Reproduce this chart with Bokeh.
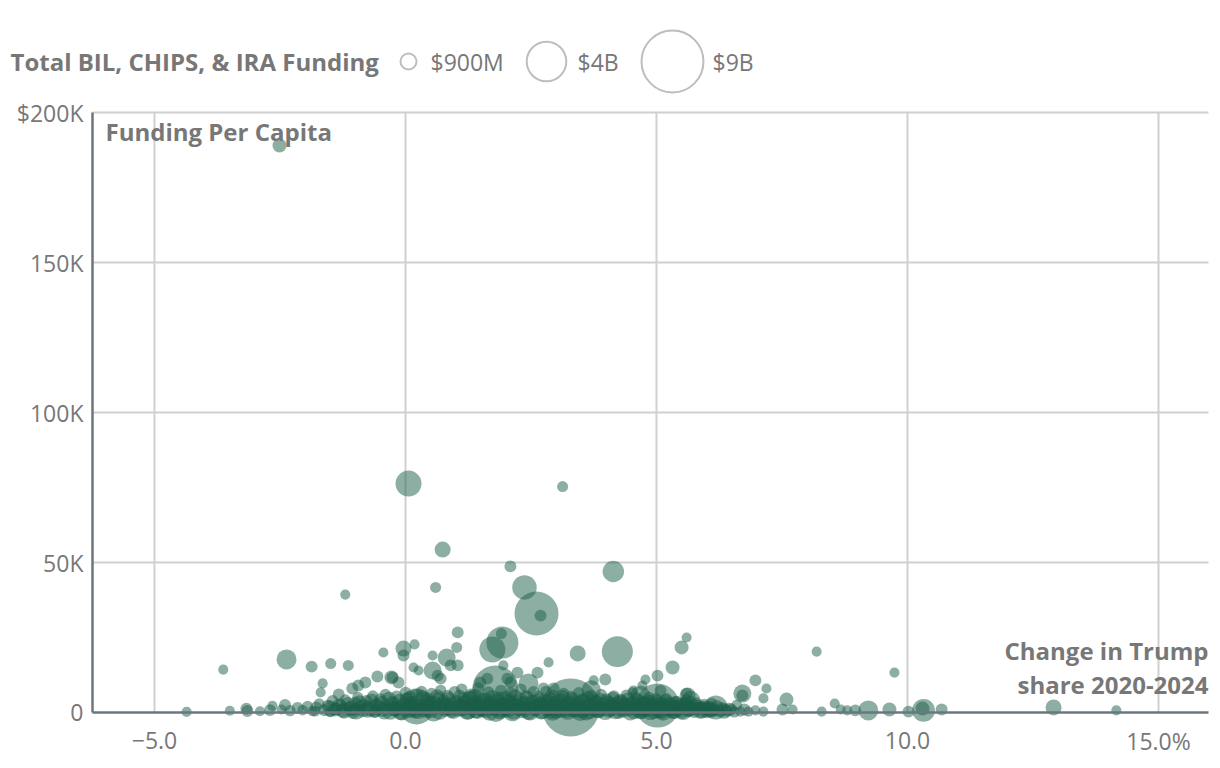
from bokeh.plotting import figure
from bokeh.models import Range1d, ColumnDataSource
from bokeh.core.properties import value
from bokeh.embed import file_html
from bokeh.resources import INLINE

FONT = "Open Sans"
GRAY = "#777777"
AXIS = "#6e767d"
GRID = "#d0d0d0"
BUBBLE = "#1a5e48"

# ---------------- data ----------------
x_axis_range = (-6.235, 15.996)      # change in Trump share, percentage points
y_axis_range = (0, 200000)           # funding per capita, dollars
x_ticks = [-5, 0, 5, 10, 15]
x_tick_labels = ["\u22125.0", "0.0", "5.0", "10.0", "15.0%"]
y_ticks = [0, 50000, 100000, 150000, 200000]
y_tick_labels = ["0", "50K", "100K", "150K", "$200K"]

legend_title = "Total BIL, CHIPS, & IRA Funding"
legend_values_bn = [0.9, 4.0, 9.0]
legend_labels = ["$900M", "$4B", "$9B"]

# counties standing out from the dense band (change in Trump share, pp)
sparse_shift = [
    -2.51, 0.06, 3.13, 0.74, 0.60, 2.09, 2.37, 2.61, 2.69, 4.14,
    4.22, -1.20, 1.93, 1.73, 1.91, -2.37, 1.04, 1.02, -0.04, -0.04,
    0.18, -0.44, -3.63, -1.87, -1.49, -1.14, -1.65, -1.69, -1.33, -1.06,
    -0.94, -0.80, -0.56, -0.28, 0.54, 0.82, 0.90, 1.04, 0.16, 0.26,
    0.54, 0.64, 0.70, -0.26, -0.14, 2.85, 3.43, 1.95, 2.23, 2.63,
    3.75, 3.98, 1.79, 3.29, 1.49, 1.63, 2.03, 2.09, 2.45, 2.75,
    2.95, 5.60, 5.50, 5.32, 5.02, 4.78, 4.72, 4.52, 5.08, 5.02,
    5.60, 6.18, 6.71, 6.71, 6.97, 7.19, 7.13, 7.59, 7.51, 7.71,
    6.67, 6.83, 6.97, 7.13, 8.19, 8.29, 8.55, 8.67, 8.80, 9.74,
    8.96, 9.22, 9.64, 10.02, 10.32, 10.30, 10.68, 12.91, 14.16, 0.22,
    5.62, 4.54, 1.30, 4.68, 5.68, -1.50, 3.70, -4.36, -3.50, -3.17,
    -3.15, -2.90, -2.70, -2.65, -2.47, -2.40, -2.30, -2.15, -2.05, -1.95,
    -1.85,
]
# funding per capita, thousands of dollars
sparse_per_capita_k = [
    189.0, 76.3, 75.3, 54.3, 41.7, 48.7, 41.7, 33.0, 32.3, 47.0,
    20.3, 39.3, 23.3, 21.0, 26.3, 17.7, 26.7, 21.7, 21.3, 19.0,
    22.7, 20.0, 14.3, 15.3, 16.3, 15.7, 9.7, 6.7, 6.0, 8.0,
    9.0, 10.0, 12.0, 11.7, 19.0, 18.3, 15.7, 15.7, 15.0, 14.0,
    14.0, 12.3, 11.3, 11.7, 10.0, 16.7, 19.7, 15.7, 13.3, 13.3,
    10.7, 11.0, 8.0, 1.7, 10.0, 11.3, 11.3, 10.0, 9.7, 8.0,
    8.0, 25.0, 21.7, 15.0, 12.3, 11.0, 9.0, 6.7, 7.3, 2.3,
    6.3, 1.7, 6.3, 5.7, 10.7, 8.0, 4.7, 4.3, 1.0, 1.0,
    0.3, 0.3, 0.7, 0.3, 20.3, 0.3, 3.0, 1.0, 0.7, 13.3,
    0.7, 0.7, 1.0, 0.3, 0.7, 1.3, 1.0, 1.7, 0.7, 2.0,
    5.7, 7.3, 4.0, 5.7, 4.0, 1.3, 7.5, 0.2, 0.6, 1.3,
    0.5, 0.4, 0.8, 2.2, 1.0, 2.5, 0.6, 1.5, 0.8, 2.0,
    0.5,
]
# total funding, billions of dollars
sparse_total_bn = [
    0.74, 1.95, 0.53, 0.90, 0.53, 0.59, 1.76, 4.83, 0.59, 1.42,
    2.62, 0.47, 2.77, 1.95, 0.53, 1.27, 0.59, 0.53, 0.90, 0.59,
    0.47, 0.47, 0.47, 0.59, 0.53, 0.53, 0.47, 0.47, 0.59, 0.59,
    0.59, 0.59, 0.59, 0.74, 0.47, 1.08, 0.59, 0.59, 0.47, 0.47,
    1.08, 0.59, 0.59, 0.59, 0.59, 0.47, 0.90, 0.47, 0.59, 0.59,
    0.47, 0.59, 5.23, 7.97, 0.59, 0.59, 0.59, 0.59, 1.27, 0.59,
    0.59, 0.47, 0.74, 0.74, 0.59, 0.47, 0.47, 0.47, 0.59, 4.83,
    0.59, 1.71, 1.08, 0.59, 0.59, 0.47, 0.47, 0.74, 0.59, 0.47,
    0.47, 0.47, 0.47, 0.47, 0.47, 0.47, 0.47, 0.47, 0.47, 0.47,
    0.59, 1.27, 0.74, 0.59, 1.56, 0.74, 0.59, 0.90, 0.47, 3.39,
    0.90, 0.47, 1.27, 1.20, 1.20, 0.90, 1.20, 0.47, 0.47, 0.59,
    0.59, 0.47, 0.59, 0.47, 0.47, 0.59, 0.55, 0.60, 0.50, 0.55,
    0.50,
]

# counties in the dense band near zero
band_shift = [
    -1.8, -1.78, -1.72, -1.62, -1.55, -1.5, -1.45, -1.38, -1.3, -1.25,
    -1.2, -1.12, -1.05, -1.0, -0.95, -0.9, -0.85, -0.78, -0.7, -0.65,
    -0.62, -0.58, -0.5, -0.45, -0.4, -0.35, -0.3, -0.25, -0.18, -0.15,
    -0.1, -0.05, 0.0, 0.02, 0.08, 0.12, 0.18, 0.22, 0.28, 0.32,
    0.38, 0.42, 0.48, 0.52, 0.56, 0.6, 0.66, 0.7, 0.74, 0.78,
    0.84, 0.88, 0.92, 0.98, 1.02, 1.06, 1.12, 1.16, 1.2, 1.25,
    1.3, 1.35, 1.4, 1.45, 1.5, 1.55, 1.6, 1.65, 1.7, 1.75,
    1.8, 1.85, 1.9, 1.95, 2.0, 2.05, 2.1, 2.15, 2.2, 2.25,
    2.3, 2.35, 2.4, 2.45, 2.5, 2.55, 2.6, 2.65, 2.7, 2.75,
    2.8, 2.85, 2.9, 2.95, 3.0, 3.05, 3.1, 3.15, 3.2, 3.25,
    3.3, 3.35, 3.4, 3.45, 3.5, 3.55, 3.6, 3.65, 3.7, 3.75,
    3.8, 3.85, 3.9, 3.95, 4.0, 4.05, 4.1, 4.15, 4.2, 4.25,
    4.3, 4.35, 4.4, 4.45, 4.5, 4.55, 4.6, 4.65, 4.7, 4.75,
    4.8, 4.85, 4.9, 4.95, 5.0, 5.05, 5.1, 5.15, 5.2, 5.25,
    5.3, 5.35, 5.4, 5.45, 5.5, 5.55, 5.6, 5.65, 5.7, 5.75,
    5.8, 5.85, 5.9, 5.95, 6.0, 6.05, 6.1, 6.15, 6.25, 6.3,
    6.4, 6.5, 6.55, 6.6, 6.75, -1.0, -0.6, -0.2, 0.1, 0.3,
    0.5, 0.7, 0.9, 1.1, 1.3, 1.5, 1.7, 1.9, 2.1, 2.3,
    2.5, 2.7, 2.9, 3.1, 3.3, 3.5, 3.7, 3.9, 4.1, 4.3,
    4.5, 4.7, 4.9, 5.1, 5.3, 5.5, 5.7, 5.9, 6.1,
]
band_per_capita_k = [
    0.4, 1.8, 3.0, 0.8, 2.4, 0.2, 3.8, 1.2, 2.8, 0.5,
    4.2, 1.6, 0.3, 3.2, 5.0, 2.0, 0.7, 3.8, 1.4, 5.5,
    0.2, 2.6, 4.4, 1.0, 6.0, 2.2, 0.4, 3.6, 5.2, 1.6,
    0.1, 2.9, 6.6, 4.4, 1.2, 3.4, 0.5, 5.8, 2.2, 7.0,
    0.9, 4.0, 2.8, 6.2, 0.2, 1.8, 4.8, 7.4, 3.2, 1.0,
    5.6, 2.4, 0.4, 6.8, 3.8, 1.4, 7.8, 4.6, 2.0, 0.3,
    6.0, 3.0, 1.1, 8.2, 4.2, 2.4, 0.6, 6.6, 3.4, 1.6,
    0.2, 5.0, 7.4, 2.8, 1.0, 4.4, 6.4, 0.5, 2.2, 3.8,
    7.8, 1.4, 5.4, 0.2, 3.0, 6.8, 1.8, 4.6, 0.7, 2.6,
    7.0, 3.8, 1.2, 5.6, 0.3, 2.0, 4.4, 6.4, 1.0, 3.2,
    5.2, 0.5, 2.4, 6.6, 1.6, 4.0, 0.2, 2.8, 5.6, 1.2,
    3.6, 0.6, 6.0, 2.0, 4.4, 0.9, 3.0, 5.4, 1.6, 0.3,
    3.8, 2.4, 5.8, 1.0, 3.2, 0.5, 4.8, 2.0, 0.2, 3.6,
    1.4, 5.0, 2.6, 0.7, 4.0, 1.8, 0.3, 3.0, 4.6, 1.2,
    2.4, 0.5, 3.6, 1.6, 0.2, 2.8, 4.2, 1.0, 2.2, 0.4,
    3.2, 1.4, 0.8, 2.6, 0.3, 1.8, 3.0, 0.9, 0.4, 1.6,
    0.6, 1.2, 0.2, 2.6, 1.0, 1.0, 0.6, 0.8, 2.6, 1.4,
    3.6, 2.2, 1.2, 2.8, 1.6, 0.8, 2.6, 0.6, 3.0, 1.0,
    1.8, 3.4, 0.4, 2.6, 1.4, 0.4, 2.2, 1.0, 2.0, 1.2,
    2.4, 1.0, 1.8, 2.2, 0.9, 1.6, 1.2, 2.0, 0.5,
]
band_total_bn = [
    0.5, 0.55, 0.5, 0.6, 0.55, 0.5, 0.6, 0.65, 0.5, 0.7,
    0.55, 0.6, 0.8, 0.6, 0.55, 0.65, 0.7, 0.6, 0.9, 0.55,
    0.6, 0.7, 0.6, 0.8, 0.55, 0.7, 1.0, 0.6, 0.65, 0.75,
    0.9, 0.6, 0.6, 0.7, 1.1, 0.6, 0.8, 0.65, 0.7, 0.55,
    0.9, 0.6, 0.75, 0.6, 1.2, 0.7, 0.65, 0.55, 0.7, 0.8,
    0.6, 0.9, 0.7, 0.6, 0.65, 1.0, 0.55, 0.7, 0.8, 0.9,
    0.6, 0.7, 1.1, 0.55, 0.75, 0.6, 0.8, 0.65, 0.7, 0.9,
    1.3, 0.6, 0.55, 0.75, 0.7, 0.65, 0.6, 1.0, 0.8, 0.6,
    0.55, 0.7, 0.65, 0.9, 0.7, 0.6, 0.8, 0.6, 1.1, 0.65,
    0.55, 0.7, 0.75, 0.6, 0.8, 0.7, 0.6, 0.55, 0.9, 0.65,
    0.6, 0.7, 0.8, 0.55, 0.65, 0.7, 1.0, 0.6, 0.6, 0.75,
    0.65, 0.8, 0.55, 0.7, 0.6, 0.9, 0.65, 0.6, 0.7, 0.8,
    0.6, 0.75, 0.55, 0.7, 0.65, 0.9, 0.6, 0.7, 0.8, 0.6,
    0.75, 0.55, 0.65, 1.0, 0.6, 0.7, 0.8, 0.6, 0.55, 0.7,
    0.65, 0.9, 0.6, 0.7, 0.75, 0.6, 0.55, 0.8, 0.6, 0.7,
    0.55, 0.65, 0.9, 0.6, 0.7, 0.6, 0.55, 0.65, 0.6, 0.55,
    0.6, 0.5, 0.55, 0.5, 0.6, 0.6, 0.7, 0.7, 0.65, 0.7,
    0.6, 0.75, 0.7, 0.6, 0.8, 0.65, 0.7, 0.75, 0.6, 0.7,
    0.65, 0.6, 0.8, 0.7, 0.65, 0.75, 0.6, 0.7, 0.65, 0.7,
    0.6, 0.75, 0.6, 0.65, 0.7, 0.6, 0.65, 0.55, 0.6,
]

# more counties packed into the band's core
core_shift = [
    -1.40, -1.32, -1.22, -1.15, -1.08, -0.98, -0.92, -0.82, -0.75, -0.68,
    -0.55, -0.48, -0.42, -0.33, -0.27, -0.22, -0.12, -0.07, 0.04, 0.10,
    0.15, 0.20, 0.25, 0.34, 0.40, 0.45, 0.50, 0.58, 0.63, 0.68,
    0.76, 0.80, 0.86, 0.95, 1.00, 1.08, 1.14, 1.18, 1.23, 1.28,
    1.33, 1.38, 1.43, 1.48, 1.53, 1.58, 1.62, 1.68, 1.73, 1.78,
    1.83, 1.88, 1.93, 1.98, 2.03, 2.08, 2.13, 2.18, 2.23, 2.28,
    2.33, 2.38, 2.43, 2.48, 2.53, 2.58, 2.63, 2.68, 2.73, 2.78,
    2.83, 2.88, 2.93, 2.98, 3.03, 3.08, 3.13, 3.18, 3.23, 3.28,
    3.33, 3.38, 3.43, 3.48, 3.53, 3.58, 3.63, 3.68, 3.73, 3.78,
    3.83, 3.88, 3.93, 3.98, 4.03, 4.08, 4.13, 4.18, 4.23, 4.28,
    4.33, 4.38, 4.43, 4.48, 4.53, 4.58, 4.63, 4.68, 4.73, 4.78,
    4.83, 4.88, 4.93, 4.98, 5.03, 5.08, 5.13, 5.18, 5.23, 5.28,
    5.33, 5.38, 5.43, 5.48, 5.53, 5.58, 5.63, 5.68, 5.78, 5.88,
    5.98, 6.08, 6.20, 6.35, 6.45,
]
core_per_capita_k = [
    1.0, 2.2, 0.6, 2.8, 1.4, 0.4, 3.4, 2.0, 0.9, 4.0,
    1.8, 3.0, 0.5, 4.6, 2.4, 1.2, 3.8, 0.3, 2.6, 4.8,
    1.5, 3.2, 0.7, 5.0, 2.0, 4.2, 1.0, 2.9, 5.4, 0.4,
    3.6, 1.8, 4.4, 0.8, 2.6, 5.2, 1.6, 3.4, 0.6, 4.6,
    2.2, 5.6, 0.9, 3.0, 1.4, 4.2, 2.6, 0.4, 5.0, 1.8,
    3.6, 0.7, 2.4, 4.8, 1.2, 3.2, 0.3, 5.4, 2.0, 4.0,
    1.0, 2.8, 4.6, 0.5, 3.4, 1.6, 5.0, 2.4, 0.8, 3.8,
    1.8, 4.4, 0.4, 2.6, 3.6, 1.2, 5.2, 2.0, 0.6, 3.0,
    4.2, 1.4, 2.8, 0.3, 3.8, 1.8, 4.8, 0.9, 2.4, 3.4,
    1.0, 4.0, 2.2, 0.5, 3.2, 1.6, 4.6, 0.8, 2.8, 3.8,
    1.2, 2.4, 4.2, 0.4, 3.0, 1.8, 3.8, 0.7, 2.6, 1.4,
    3.4, 0.5, 2.2, 4.0, 1.0, 2.8, 0.3, 3.6, 1.6, 2.4,
    0.8, 3.0, 1.4, 2.2, 0.4, 2.6, 1.2, 3.2, 1.8, 0.6,
    1.4, 0.9, 1.8, 0.5, 1.0,
]
core_total_bn = [
    0.75, 0.8, 0.9, 0.75, 0.85, 0.95, 0.75, 0.8, 0.9, 0.75,
    0.85, 0.8, 1.0, 0.75, 0.9, 0.85, 0.8, 1.05, 0.85, 0.75,
    0.9, 0.8, 1.0, 0.75, 0.95, 0.8, 1.05, 0.85, 0.75, 1.0,
    0.8, 0.95, 0.8, 1.05, 0.9, 0.75, 1.0, 0.85, 1.1, 0.8,
    0.95, 0.75, 1.1, 0.85, 1.0, 0.8, 0.9, 1.15, 0.8, 1.0,
    0.85, 1.1, 0.95, 0.8, 1.05, 0.9, 1.2, 0.75, 1.0, 0.85,
    1.05, 0.9, 0.8, 1.15, 0.85, 1.0, 0.75, 0.95, 1.1, 0.85,
    1.0, 0.8, 1.15, 0.9, 0.85, 1.05, 0.75, 0.95, 1.1, 0.9,
    0.8, 1.05, 0.9, 1.15, 0.85, 1.0, 0.75, 1.1, 0.95, 0.85,
    1.05, 0.8, 0.95, 1.1, 0.85, 1.0, 0.75, 1.1, 0.9, 0.8,
    1.0, 0.9, 0.8, 1.1, 0.85, 0.95, 0.8, 1.05, 0.9, 1.0,
    0.85, 1.1, 0.9, 0.8, 1.0, 0.85, 1.1, 0.8, 0.95, 0.9,
    1.0, 0.8, 0.95, 0.85, 1.05, 0.8, 0.9, 0.75, 0.85, 0.95,
    0.8, 0.9, 0.75, 0.85, 0.7,
]


def radius_px(total_bn):
    # bubble radius scale (sqrt of total funding)
    return 11.21 * total_bn ** 0.5 - 2.64


shift = core_shift + band_shift + sparse_shift
per_capita = [v * 1000 for v in core_per_capita_k + band_per_capita_k + sparse_per_capita_k]
total = core_total_bn + band_total_bn + sparse_total_bn
src = ColumnDataSource(dict(x=shift, y=per_capita, total=total,
                            size=[2 * radius_px(t) for t in total]))

# ---------------- layout geometry (pixels) ----------------
W, H = 1220, 768
PLOT_L, PLOT_R, PLOT_T, PLOT_B = 92, 1208, 112, 712
x_scale = (PLOT_R - PLOT_L) / (x_axis_range[1] - x_axis_range[0])
y_scale = (PLOT_B - PLOT_T) / (y_axis_range[1] - y_axis_range[0])


def px_to_x(px):
    return x_axis_range[0] + (px - PLOT_L) / x_scale


def py_to_y(py):
    return y_axis_range[0] + (PLOT_B - py) / y_scale


p = figure(width=W, height=H,
           x_range=Range1d(px_to_x(0), px_to_x(W)), y_range=Range1d(py_to_y(H), py_to_y(0)),
           output_backend="svg", toolbar_location=None,
           x_axis_location=None, y_axis_location=None, min_border=0)
p.min_border_left = p.min_border_right = p.min_border_top = p.min_border_bottom = 0
p.outline_line_color = None
p.xgrid.visible = False
p.ygrid.visible = False

x0, x1 = x_axis_range
y0, y1 = y_axis_range
n_x = len(x_ticks)
n_y = len(y_ticks)

# grid lines
p.segment(x0=x_ticks, y0=[y0] * n_x, x1=x_ticks, y1=[y1] * n_x,
          line_color=GRID, line_width=2)
p.segment(x0=[x0] * (n_y - 1), y0=y_ticks[1:], x1=[x1] * (n_y - 1), y1=y_ticks[1:],
          line_color=GRID, line_width=2)

# bubbles
p.scatter("x", "y", size="size", source=src, fill_color=BUBBLE, fill_alpha=0.5,
          line_color=None)

# axis lines
p.segment(x0=[x0, x0], y0=[y0, y0], x1=[x0, x1], y1=[y1, y0],
          line_color=AXIS, line_width=2.5)

# tick labels
p.text(x=[x0] * n_y, y=y_ticks, text=y_tick_labels, x_offset=-9,
       text_align="right", text_baseline="middle", text_font=value(FONT),
       text_font_size="23px", text_color=GRAY)
p.text(x=x_ticks, y=[y0] * n_x, text=x_tick_labels, y_offset=28,
       text_align="center", text_baseline="middle", text_font=value(FONT),
       text_font_size="23px", text_color=GRAY)

# axis titles
p.text(x=[px_to_x(105)], y=[py_to_y(131)], text=["Funding Per Capita"],
       text_align="left", text_baseline="middle", text_font=value(FONT),
       text_font_style="bold", text_font_size="24px", text_color=GRAY)
p.text(x=[px_to_x(1208), px_to_x(1208)], y=[py_to_y(650), py_to_y(684)],
       text=["Change in Trump", "share 2020-2024"],
       text_align="right", text_baseline="middle", text_font=value(FONT),
       text_font_style="bold", text_font_size="24px", text_color=GRAY)

# size legend
LEG_Y = py_to_y(61)
p.text(x=[px_to_x(10)], y=[LEG_Y], text=[legend_title], text_align="left",
       text_baseline="middle", text_font=value(FONT), text_font_style="bold",
       text_font_size="24px", text_color=GRAY)
p.scatter(x=[px_to_x(408), px_to_x(546), px_to_x(672)], y=[LEG_Y] * 3,
          size=[2 * radius_px(v) for v in legend_values_bn],
          fill_color=None, line_color="#bdbdbd", line_width=2)
p.text(x=[px_to_x(430), px_to_x(577), px_to_x(712)], y=[LEG_Y] * 3, text=legend_labels,
       text_align="left", text_baseline="middle", text_font=value(FONT),
       text_font_size="23px", text_color=GRAY)

open("out.html", "w").write(file_html(p, INLINE))
